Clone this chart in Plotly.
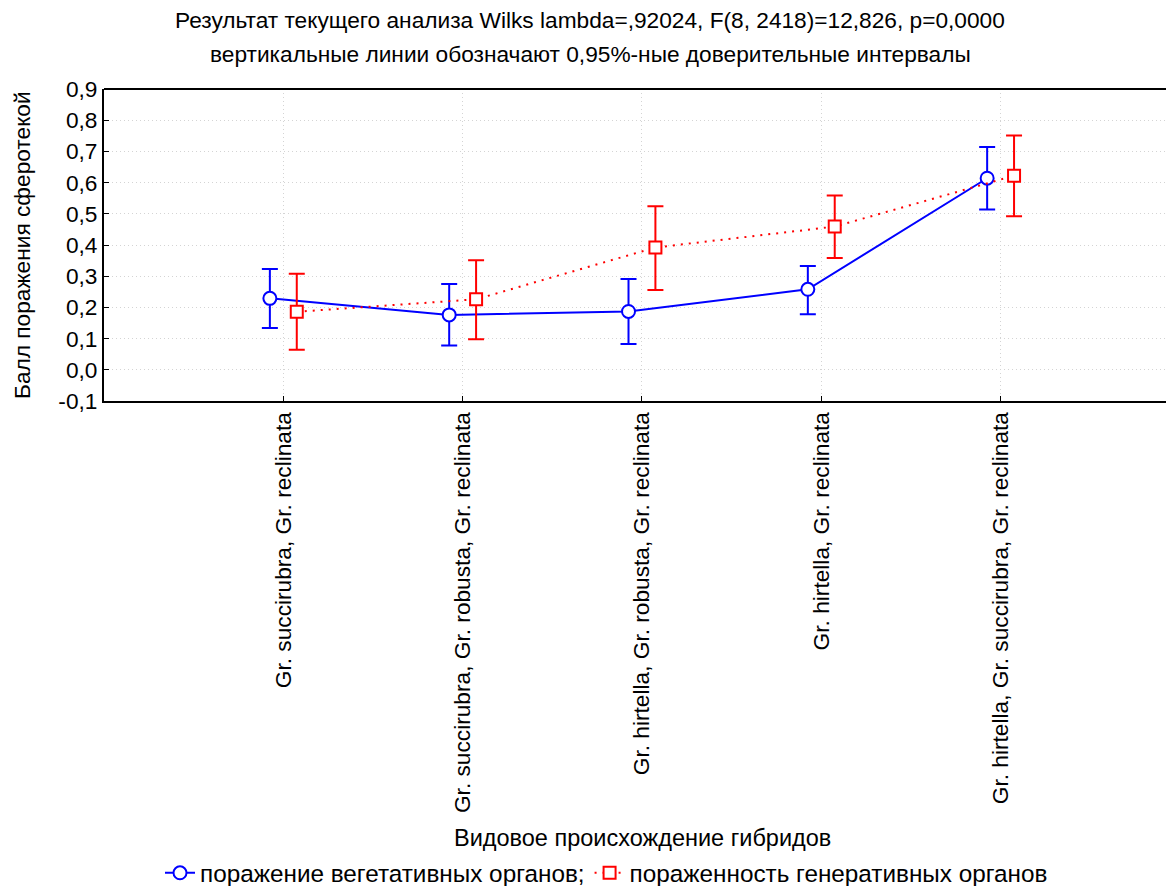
import plotly.graph_objects as go

categories = [
    "Gr. succirubra, Gr. reclinata",
    "Gr. succirubra, Gr. robusta, Gr. reclinata",
    "Gr. hirtella, Gr. robusta, Gr. reclinata",
    "Gr. hirtella, Gr. reclinata",
    "Gr. hirtella, Gr. succirubra, Gr. reclinata",
]
veg_mean = [0.229, 0.176, 0.187, 0.258, 0.614]
veg_upper = [0.323, 0.275, 0.291, 0.333, 0.714]
veg_lower = [0.134, 0.078, 0.083, 0.178, 0.514]
gen_mean = [0.186, 0.226, 0.392, 0.459, 0.622]
gen_upper = [0.308, 0.351, 0.524, 0.559, 0.751]
gen_lower = [0.064, 0.098, 0.256, 0.358, 0.492]
y_ticks = [-0.1, 0.0, 0.1, 0.2, 0.3, 0.4, 0.5, 0.6, 0.7, 0.8, 0.9]
y_tick_labels = ["-0,1", "0,0", "0,1", "0,2", "0,3", "0,4", "0,5", "0,6", "0,7", "0,8", "0,9"]

FONT = "Liberation Sans, Arial, sans-serif"
FS = 22.7
offset = 0.075
xi = list(range(len(categories)))

# page body margin is 8px, so work in figure coordinates (screen - 8)
OFF = 8
W, H = 1174 - OFF, 886 - OFF
L, T, B = 104 - OFF, 89 - OFF, 401 - OFF
PW = W - L
PH = B - T


def px(x):
    return (x - OFF - L) / PW


def py(y):
    return (B - (y - OFF)) / PH


fig = go.Figure()
fig.add_trace(go.Scatter(
    x=[i - offset for i in xi], y=veg_mean, mode="lines+markers",
    name="поражение вегетативных органов;",
    line=dict(color="#0000ff", width=2),
    marker=dict(symbol="circle", size=13, color="white", line=dict(color="#0000ff", width=2)),
    error_y=dict(type="data", symmetric=False,
                 array=[u - m for u, m in zip(veg_upper, veg_mean)],
                 arrayminus=[m - l for m, l in zip(veg_mean, veg_lower)],
                 color="#0000ff", thickness=2, width=8),
))
fig.add_trace(go.Scatter(
    x=[i + offset for i in xi], y=gen_mean, mode="lines+markers",
    name="пораженность генеративных органов",
    line=dict(color="#ff0000", width=2, dash="2px,6px"),
    marker=dict(symbol="square", size=12, color="white", line=dict(color="#ff0000", width=2)),
    error_y=dict(type="data", symmetric=False,
                 array=[u - m for u, m in zip(gen_upper, gen_mean)],
                 arrayminus=[m - l for m, l in zip(gen_mean, gen_lower)],
                 color="#ff0000", thickness=2, width=8),
))

fig.update_layout(
    width=W, height=H,
    margin=dict(l=L, r=0, t=T, b=H - B, autoexpand=False),
    paper_bgcolor="white", plot_bgcolor="white",
    font=dict(family=FONT, size=FS, color="black"),
    showlegend=True,
    legend=dict(orientation="h", x=px(160), xanchor="left",
                y=py(873), yanchor="middle",
                font=dict(size=24.3), itemwidth=30, bgcolor="rgba(0,0,0,0)"),
    xaxis=dict(
        range=[-1, 4.967], tickmode="array", tickvals=xi, ticktext=categories,
        tickangle=-90, ticks="inside", ticklen=5, tickcolor="black",
        showline=True, linecolor="black", linewidth=2,
        showgrid=True, gridcolor="#d4d4d4", griddash="1px,3px", gridwidth=1,
        zeroline=False, tickfont=dict(size=FS),
    ),
    yaxis=dict(
        range=[-0.1, 0.9], tickmode="array", tickvals=y_ticks, ticktext=y_tick_labels,
        ticks="inside", ticklen=5, tickcolor="black",
        showline=True, linecolor="black", linewidth=2,
        showgrid=True, gridcolor="#d4d4d4", griddash="1px,3px", gridwidth=1,
        zeroline=False, tickfont=dict(size=FS),
    ),
    shapes=[dict(type="line", xref="paper", yref="paper", x0=0, x1=1, y0=1, y1=1,
                 line=dict(color="black", width=2))],
    annotations=[
        dict(text="Результат текущего анализа Wilks lambda=,92024, F(8, 2418)=12,826, p=0,0000",
             xref="paper", yref="paper", x=px(590), y=py(20),
             xanchor="center", yanchor="middle", showarrow=False, font=dict(size=FS)),
        dict(text="вертикальные линии обозначают 0,95%-ные доверительные интервалы",
             xref="paper", yref="paper", x=px(590), y=py(54),
             xanchor="center", yanchor="middle", showarrow=False, font=dict(size=FS)),
        dict(text="Видовое происхождение гибридов",
             xref="paper", yref="paper", x=px(642), y=py(838),
             xanchor="center", yanchor="middle", showarrow=False, font=dict(size=23.5)),
        dict(text="Балл поражения сферотекой", textangle=-90,
             xref="paper", yref="paper", x=px(22), y=py(245),
             xanchor="center", yanchor="middle", showarrow=False, font=dict(size=FS)),
    ],
)

fig.write_html("out.html")
